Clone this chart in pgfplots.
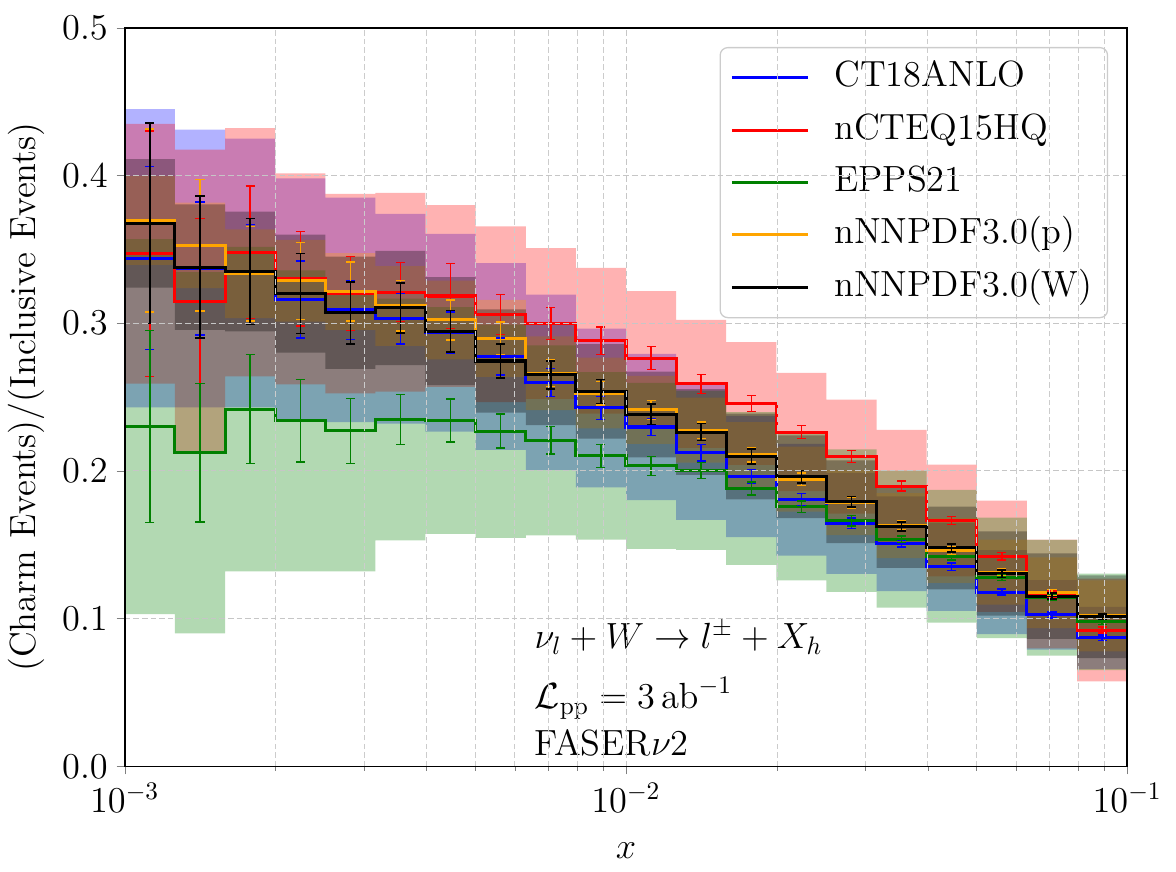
\documentclass[border=0pt]{standalone}
\usepackage{pgfplots}
\usepackage{pgfplotstable}
\pgfplotsset{compat=1.18}
\usepgfplotslibrary{fillbetween}

\definecolor{mplgreen}{RGB}{0,128,0}
\definecolor{mplorange}{RGB}{255,165,0}

% columns: bin edge, bin centre, central value, stat. error, PDF band low/high
% (last row repeats the final bin so that the step reaches x = 0.1)
\pgfplotstableread{
e xc c err lo hi
0.0010000 0.0011220 0.3440 0.0620 0.2430 0.4450
0.0012589 0.0014125 0.3370 0.0450 0.2430 0.4310
0.0015849 0.0017783 0.3340 0.0330 0.2430 0.4250
0.0019953 0.0022387 0.3160 0.0260 0.2340 0.3980
0.0025119 0.0028184 0.3090 0.0200 0.2330 0.3850
0.0031623 0.0035481 0.3030 0.0170 0.2320 0.3740
0.0039811 0.0044668 0.2935 0.0140 0.2265 0.3605
0.0050119 0.0056234 0.2774 0.0125 0.2142 0.3406
0.0063096 0.0070795 0.2600 0.0095 0.2007 0.3193
0.0079433 0.0089125 0.2426 0.0078 0.1888 0.2964
0.010000 0.011220 0.2297 0.0056 0.1802 0.2792
0.012589 0.014125 0.2124 0.0056 0.1668 0.2580
0.015849 0.017783 0.1962 0.0048 0.1551 0.2373
0.019953 0.022387 0.1805 0.0040 0.1427 0.2183
0.025119 0.028184 0.1645 0.0037 0.1303 0.1987
0.031623 0.035481 0.1507 0.0022 0.1186 0.1828
0.039811 0.044668 0.1350 0.0025 0.1052 0.1648
0.050119 0.056234 0.1179 0.0020 0.0895 0.1463
0.063096 0.070795 0.1025 0.0020 0.0790 0.1260
0.079433 0.089125 0.0870 0.0018 0.0660 0.1080
0.10000 0.10000 0.0870 0.0018 0.0660 0.1080
}\tCT

\pgfplotstableread{
e xc c err lo hi
0.0010000 0.0011220 0.3470 0.0830 0.2590 0.4350
0.0012589 0.0014125 0.3150 0.0560 0.2125 0.4175
0.0015849 0.0017783 0.3480 0.0450 0.2640 0.4320
0.0019953 0.0022387 0.3300 0.0320 0.2586 0.4014
0.0025119 0.0028184 0.3200 0.0250 0.2525 0.3875
0.0031623 0.0035481 0.3210 0.0200 0.2537 0.3883
0.0039811 0.0044668 0.3184 0.0220 0.2568 0.3800
0.0050119 0.0056234 0.3060 0.0135 0.2465 0.3655
0.0063096 0.0070795 0.2998 0.0110 0.2487 0.3509
0.0079433 0.0089125 0.2881 0.0092 0.2388 0.3374
0.010000 0.011220 0.2764 0.0077 0.2311 0.3217
0.012589 0.014125 0.2589 0.0065 0.2156 0.3022
0.015849 0.017783 0.2456 0.0053 0.2041 0.2871
0.019953 0.022387 0.2263 0.0045 0.1863 0.2663
0.025119 0.028184 0.2097 0.0040 0.1711 0.2483
0.031623 0.035481 0.1897 0.0034 0.1516 0.2278
0.039811 0.044668 0.1664 0.0028 0.1285 0.2043
0.050119 0.056234 0.1422 0.0025 0.1046 0.1798
0.063096 0.070795 0.1166 0.0022 0.0798 0.1534
0.079433 0.089125 0.0922 0.0020 0.0574 0.1270
0.10000 0.10000 0.0922 0.0020 0.0574 0.1270
}\tNC

\pgfplotstableread{
e xc c err lo hi
0.0010000 0.0011220 0.2300 0.0650 0.1030 0.3570
0.0012589 0.0014125 0.2123 0.0470 0.0900 0.3346
0.0015849 0.0017783 0.2418 0.0370 0.1320 0.3516
0.0019953 0.0022387 0.2339 0.0280 0.1320 0.3358
0.0025119 0.0028184 0.2272 0.0220 0.1320 0.3224
0.0031623 0.0035481 0.2348 0.0170 0.1530 0.3166
0.0039811 0.0044668 0.2341 0.0145 0.1574 0.3108
0.0050119 0.0056234 0.2269 0.0115 0.1547 0.2991
0.0063096 0.0070795 0.2206 0.0093 0.1563 0.2849
0.0079433 0.0089125 0.2101 0.0078 0.1534 0.2668
0.010000 0.011220 0.2034 0.0065 0.1472 0.2596
0.012589 0.014125 0.2004 0.0054 0.1465 0.2543
0.015849 0.017783 0.1881 0.0043 0.1364 0.2398
0.019953 0.022387 0.1757 0.0040 0.1259 0.2255
0.025119 0.028184 0.1663 0.0035 0.1180 0.2146
0.031623 0.035481 0.1538 0.0022 0.1074 0.2002
0.039811 0.044668 0.1422 0.0025 0.0973 0.1871
0.050119 0.056234 0.1276 0.0020 0.0868 0.1684
0.063096 0.070795 0.1141 0.0020 0.0749 0.1533
0.079433 0.089125 0.0978 0.0018 0.0651 0.1305
0.10000 0.10000 0.0978 0.0018 0.0651 0.1305
}\tEP

\pgfplotstableread{
e xc c err lo hi
0.0010000 0.0011220 0.3695 0.0620 0.3395 0.3995
0.0012589 0.0014125 0.3527 0.0445 0.3237 0.3817
0.0015849 0.0017783 0.3335 0.0320 0.3035 0.3635
0.0019953 0.0022387 0.3287 0.0260 0.3010 0.3564
0.0025119 0.0028184 0.3215 0.0200 0.2955 0.3475
0.0031623 0.0035481 0.3117 0.0170 0.2847 0.3387
0.0039811 0.0044668 0.3022 0.0135 0.2755 0.3289
0.0050119 0.0056234 0.2897 0.0110 0.2637 0.3157
0.0063096 0.0070795 0.2661 0.0090 0.2411 0.2911
0.0079433 0.0089125 0.2527 0.0080 0.2287 0.2767
0.010000 0.011220 0.2413 0.0065 0.2183 0.2643
0.012589 0.014125 0.2276 0.0055 0.2056 0.2496
0.015849 0.017783 0.2110 0.0050 0.1890 0.2330
0.019953 0.022387 0.1944 0.0042 0.1724 0.2164
0.025119 0.028184 0.1785 0.0036 0.1565 0.2005
0.031623 0.035481 0.1630 0.0030 0.1410 0.1850
0.039811 0.044668 0.1462 0.0027 0.1242 0.1682
0.050119 0.056234 0.1314 0.0023 0.1094 0.1534
0.063096 0.070795 0.1175 0.0020 0.0935 0.1415
0.079433 0.089125 0.1018 0.0018 0.0778 0.1258
0.10000 0.10000 0.1018 0.0018 0.0778 0.1258
}\tNNp

\pgfplotstableread{
e xc c err lo hi
0.0010000 0.0011220 0.3676 0.0680 0.3241 0.4111
0.0012589 0.0014125 0.3380 0.0480 0.2955 0.3805
0.0015849 0.0017783 0.3350 0.0360 0.2945 0.3755
0.0019953 0.0022387 0.3200 0.0270 0.2800 0.3600
0.0025119 0.0028184 0.3070 0.0210 0.2690 0.3450
0.0031623 0.0035481 0.3103 0.0170 0.2716 0.3490
0.0039811 0.0044668 0.2946 0.0140 0.2580 0.3312
0.0050119 0.0056234 0.2744 0.0115 0.2394 0.3094
0.0063096 0.0070795 0.2650 0.0095 0.2310 0.2990
0.0079433 0.0089125 0.2538 0.0080 0.2218 0.2858
0.010000 0.011220 0.2382 0.0070 0.2092 0.2672
0.012589 0.014125 0.2263 0.0056 0.1973 0.2553
0.015849 0.017783 0.2097 0.0050 0.1807 0.2387
0.019953 0.022387 0.1960 0.0043 0.1680 0.2240
0.025119 0.028184 0.1791 0.0036 0.1511 0.2071
0.031623 0.035481 0.1623 0.0030 0.1343 0.1903
0.039811 0.044668 0.1478 0.0028 0.1198 0.1758
0.050119 0.056234 0.1305 0.0025 0.1020 0.1590
0.063096 0.070795 0.1152 0.0020 0.0862 0.1442
0.079433 0.089125 0.1013 0.0018 0.0733 0.1293
0.10000 0.10000 0.1013 0.0018 0.0733 0.1293
}\tNNW

% PDF uncertainty band as a translucent step area
\newcommand{\pdfband}[3]{%
  \addplot[draw=none, const plot, forget plot, name path=#3hi] table[x=e, y=hi]{#1};
  \addplot[draw=none, const plot, forget plot, name path=#3lo] table[x=e, y=lo]{#1};
  \addplot[fill=#2, fill opacity=0.3, draw=none, forget plot] fill between[of=#3hi and #3lo];
}
% statistical error bars (with caps) at the bin centres
\newcommand{\staterr}[2]{%
  \addplot[draw=none, mark=none, forget plot,
    skip coords between index={20}{21},
    error bars/.cd, y dir=both, y explicit,
    error bar style={draw=#2, line width=0.55pt},
    error mark options={rotate=90, draw=#2, line width=0.55pt, mark size=1.8pt}]
    table[x=xc, y=c, y error=err]{#1};
}

\begin{document}
\begin{tikzpicture}
\begin{axis}[
  name=ax,
  scale only axis,
  width=396.5pt, height=292.1pt,
  xmode=log, xmin=1e-3, xmax=1e-1,
  ymin=0, ymax=0.5,
  ytick={0,0.1,0.2,0.3,0.4,0.5},
  y tick label style={/pgf/number format/.cd, fixed, fixed zerofill, precision=1, /tikz/.cd},
  tick label style={font=\Large},
  label style={font=\Large},
  xlabel={$x$},
  xlabel style={yshift=-5pt},
  ylabel={(Charm Events)/(Inclusive Events)},
  tick align=outside,
  tick pos=left,
  major tick length=3.2pt,
  minor tick length=1.8pt,
  axis line style={line width=0.6pt},
  grid=both,
  major grid style={gray!45, dash pattern=on 2.2pt off 1.2pt, line width=0.35pt},
  minor grid style={gray!40, dash pattern=on 2.2pt off 1.2pt, line width=0.3pt},
  axis on top,
  legend cell align=left,
  legend image code/.code={\draw[#1, line width=1.2pt] (0pt,0pt) -- (30pt,0pt);},
  legend style={
    at={(0.981,0.974)}, anchor=north east,
    font=\Large,
    draw=black!20, line width=0.5pt, rounded corners=3pt,
    fill=white, fill opacity=0.8, text opacity=1,
    inner xsep=4pt, inner ysep=3pt,
    row sep=2.7pt,
    nodes={text height=10.5pt, text depth=3.5pt, inner sep=2pt},
    /tikz/every odd column/.append style={column sep=8pt},
  },
]
  \pdfband{\tCT}{blue}{ct}
  \pdfband{\tNC}{red}{nc}
  \pdfband{\tEP}{mplgreen}{ep}
  \pdfband{\tNNp}{mplorange}{nnp}
  \pdfband{\tNNW}{black}{nnw}

  \addplot[blue, line width=1.2pt, const plot] table[x=e, y=c]{\tCT};
  \addlegendentry{CT18ANLO}
  \addplot[red, line width=1.2pt, const plot] table[x=e, y=c]{\tNC};
  \addlegendentry{nCTEQ15HQ}
  \addplot[mplgreen, line width=1.2pt, const plot] table[x=e, y=c]{\tEP};
  \addlegendentry{EPPS21}
  \addplot[mplorange, line width=1.2pt, const plot] table[x=e, y=c]{\tNNp};
  \addlegendentry{nNNPDF3.0(p)}
  \addplot[black, line width=1.2pt, const plot] table[x=e, y=c]{\tNNW};
  \addlegendentry{nNNPDF3.0(W)}

  \staterr{\tCT}{blue}
  \staterr{\tNC}{red}
  \staterr{\tEP}{mplgreen}
  \staterr{\tNNp}{mplorange}
  \staterr{\tNNW}{black}

  \node[anchor=base west, font=\Large] at (rel axis cs:0.400,0.159) {$\nu_l + W \rightarrow l^{\pm} + X_h$};
  \node[anchor=base west, font=\Large] at (rel axis cs:0.400,0.078) {$\mathcal{L}_{\mathrm{pp}} = 3\,\mathrm{ab}^{-1}$};
  \node[anchor=base west, font=\Large] at (rel axis cs:0.400,0.0148) {FASER$\nu$2};
\end{axis}
\path ([xshift=-47.2pt, yshift=-41.7pt]ax.south west) rectangle ([xshift=19.3pt, yshift=11pt]ax.north east);
\end{tikzpicture}
\end{document}
